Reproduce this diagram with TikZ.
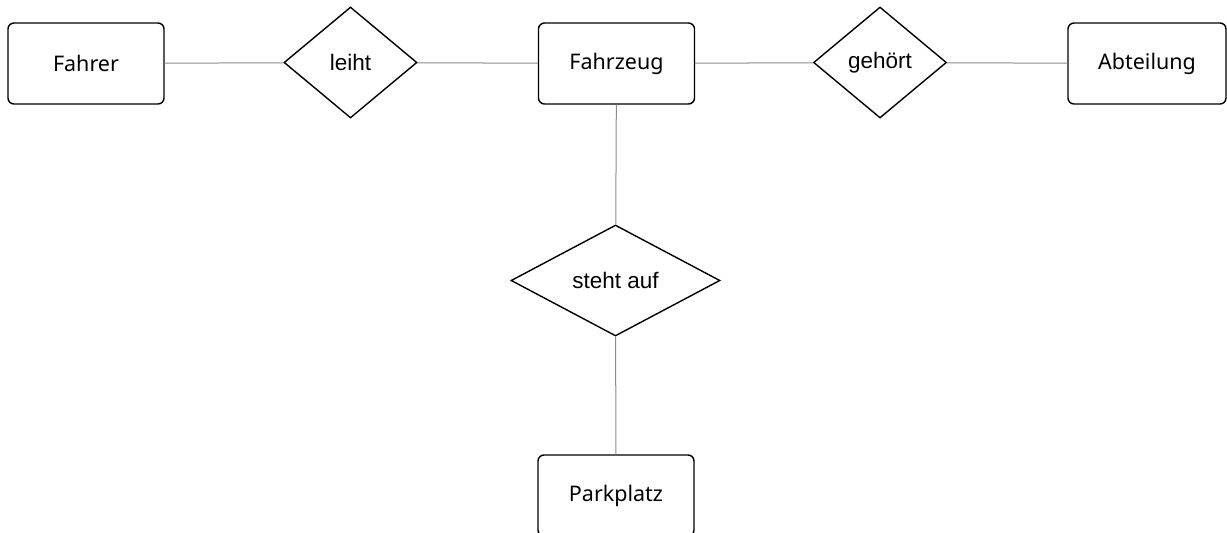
\documentclass[tikz,border=0pt]{standalone}
\usepackage{fontspec}
\usetikzlibrary{shapes.geometric}
\newfontfamily\entfont{Noto Sans}
\newfontfamily\relfont{Liberation Sans}
\begin{document}
\begin{tikzpicture}[x=1pt,y=-1pt,
  entity/.style={draw=black,line width=1.4pt,rounded corners=6pt,minimum width=156pt,minimum height=81pt,inner sep=0pt,font=\entfont\fontsize{21.5}{25}\selectfont},
  relation/.style={draw=black,line width=1.4pt,shape=diamond,inner sep=0pt,minimum width=133pt,minimum height=111pt,font=\relfont\fontsize{22.5}{26}\selectfont},
  conn/.style={draw=black!45,line width=1pt}]
\useasboundingbox (0,0) rectangle (1227,533);
\clip (0,0) rectangle (1227,533);
\node[entity] (fahrer) at (86,63.5) {Fahrer};
\node[relation] (leiht) at (350.5,62.5) {leiht};
\node[entity] (fahrzeug) at (616.5,63.5) {Fahrzeug};
\node[relation] (gehoert) at (880,62.5) {gehört};
\node[entity,minimum width=158pt] (abteilung) at (1147,63.5) {Abteilung};
\node[relation,minimum width=209pt] (steht) at (615.5,280.5) {steht auf};
\node[entity] (parkplatz) at (616,495.5) {Parkplatz};
\draw[conn] (fahrer) -- (leiht);
\draw[conn] (leiht) -- (fahrzeug);
\draw[conn] (fahrzeug) -- (gehoert);
\draw[conn] (gehoert) -- (abteilung);
\draw[conn] (fahrzeug) -- (steht);
\draw[conn] (steht) -- (parkplatz);
\end{tikzpicture}
\end{document}
